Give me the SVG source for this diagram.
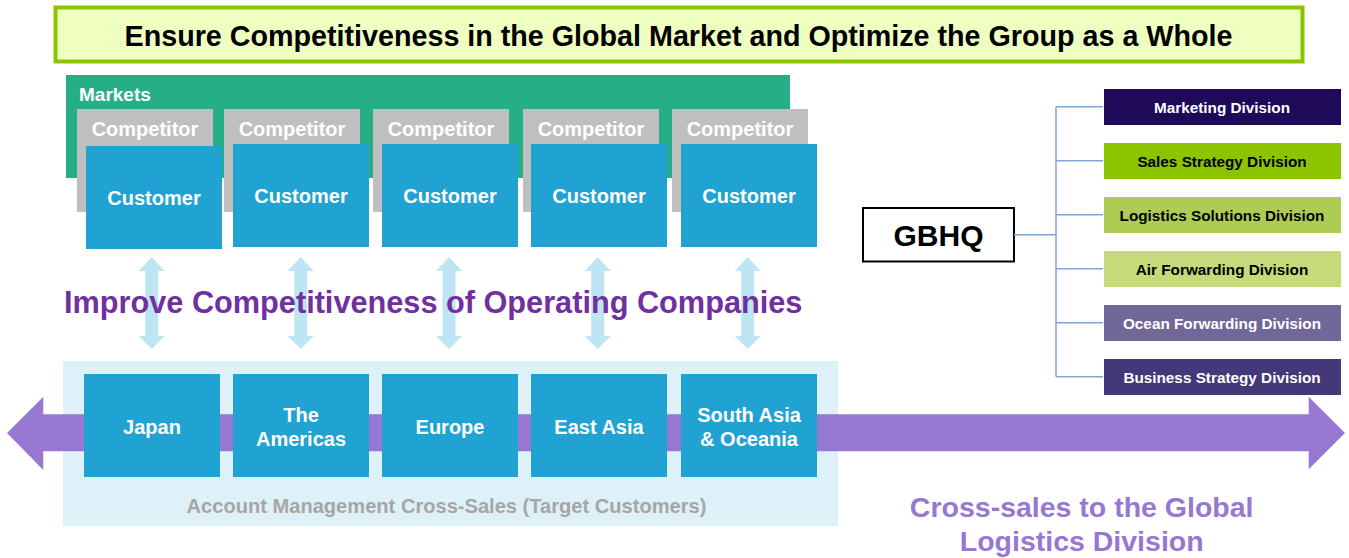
<svg xmlns="http://www.w3.org/2000/svg" width="1349" height="558" viewBox="0 0 1349 558">
  <style>
    text { font-family: "Liberation Sans", Arial, sans-serif; font-weight: bold; }
    .comp { fill: #BFBFBF; }
    .cust { fill: #20A3D3; }
    .wt { fill: #FFFFFF; font-size: 20px; text-anchor: middle; }
    .div { font-size: 15.3px; text-anchor: middle; }
    .link { stroke: #7FA6D9; stroke-width: 1.5; fill: none; }
    .dbl { fill: #BDE5F4; }
  </style>
  <defs>
    <!-- vertical double-headed arrow, centred on x=0 -->
    <path id="dblArrow" d="M0,257 L13,271 L6.5,271 L6.5,336 L13,336 L0,349 L-13,336 L-6.5,336 L-6.5,271 L-13,271 Z"/>
  </defs>

  <!-- headline banner -->
  <g id="banner">
    <rect x="55.5" y="7.5" width="1247" height="54" fill="#EEFFC0" stroke="#8DC400" stroke-width="4"/>
    <text x="678.5" y="45.5" font-size="28.7" text-anchor="middle" fill="#000000">Ensure Competitiveness in the Global Market and Optimize the Group as a Whole</text>
  </g>

  <!-- markets band -->
  <g id="markets">
    <rect x="66" y="75" width="724" height="103" fill="#26AF87"/>
    <text x="79" y="101" font-size="19" fill="#FFFFFF">Markets</text>
  </g>

  <!-- competitors -->
  <g id="competitor-1"><rect class="comp" x="77" y="109" width="136" height="103"/><text class="wt" x="145" y="136">Competitor</text></g>
  <g id="competitor-2"><rect class="comp" x="224" y="109" width="136" height="103"/><text class="wt" x="292" y="136">Competitor</text></g>
  <g id="competitor-3"><rect class="comp" x="373" y="109" width="136" height="103"/><text class="wt" x="441" y="136">Competitor</text></g>
  <g id="competitor-4"><rect class="comp" x="523" y="109" width="136" height="103"/><text class="wt" x="591" y="136">Competitor</text></g>
  <g id="competitor-5"><rect class="comp" x="672" y="109" width="136" height="103"/><text class="wt" x="740" y="136">Competitor</text></g>

  <!-- customers -->
  <g id="customer-1"><rect class="cust" x="86" y="146" width="136" height="103"/><text class="wt" x="154" y="205">Customer</text></g>
  <g id="customer-2"><rect class="cust" x="233" y="144" width="136" height="103"/><text class="wt" x="301" y="203">Customer</text></g>
  <g id="customer-3"><rect class="cust" x="382" y="144" width="136" height="103"/><text class="wt" x="450" y="203">Customer</text></g>
  <g id="customer-4"><rect class="cust" x="531" y="144" width="136" height="103"/><text class="wt" x="599" y="203">Customer</text></g>
  <g id="customer-5"><rect class="cust" x="681" y="144" width="136" height="103"/><text class="wt" x="749" y="203">Customer</text></g>

  <!-- customer / region exchange arrows -->
  <g id="exchange-arrows" class="dbl">
    <use href="#dblArrow" x="151.7"/>
    <use href="#dblArrow" x="300.7"/>
    <use href="#dblArrow" x="449"/>
    <use href="#dblArrow" x="597.7"/>
    <use href="#dblArrow" x="747.7"/>
  </g>

  <text id="improve-heading" x="64" y="313" font-size="30.7" fill="#7030A0">Improve Competitiveness of Operating Companies</text>

  <!-- account management panel -->
  <g id="account-panel">
    <rect x="63" y="361" width="775" height="165" fill="#DEF1F9"/>
    <text x="446.5" y="512.5" font-size="20.1" text-anchor="middle" fill="#A6A6A6">Account Management Cross-Sales (Target Customers)</text>
  </g>

  <!-- cross-sales arrow -->
  <path id="cross-sales-arrow" d="M7,433 L43.3,396.7 L43.3,414.3 L1308.7,414.3 L1308.7,396.7 L1345,433 L1308.7,469.3 L1308.7,451.3 L43.3,451.3 L43.3,470 Z" fill="#9678D3"/>

  <!-- regions -->
  <g id="region-japan"><rect class="cust" x="84" y="374" width="136" height="103"/><text class="wt" x="152" y="433.5">Japan</text></g>
  <g id="region-americas"><rect class="cust" x="233" y="374" width="136" height="103"/><text class="wt" x="301" y="422">The</text><text class="wt" x="301" y="445.5">Americas</text></g>
  <g id="region-europe"><rect class="cust" x="382" y="374" width="136" height="103"/><text class="wt" x="450" y="433.5">Europe</text></g>
  <g id="region-east-asia"><rect class="cust" x="531" y="374" width="136" height="103"/><text class="wt" x="599" y="433.5">East Asia</text></g>
  <g id="region-south-asia"><rect class="cust" x="681" y="374" width="136" height="103"/><text class="wt" x="749" y="422">South Asia</text><text class="wt" x="749" y="445.5">&amp; Oceania</text></g>

  <g id="cross-sales-label" font-size="28.5" fill="#9678D3">
    <text x="1081.7" y="517" text-anchor="middle">Cross-sales to the Global</text>
    <text x="1081.7" y="551" text-anchor="middle">Logistics Division</text>
  </g>

  <!-- GBHQ organisation -->
  <g id="gbhq">
    <rect x="863" y="208" width="151" height="53.5" fill="#FFFFFF" stroke="#000000" stroke-width="2"/>
    <text x="938.5" y="246" font-size="30" text-anchor="middle" fill="#000000">GBHQ</text>
  </g>

  <g id="connectors" class="link">
    <path d="M1014,234.7 H1056"/>
    <path d="M1056,106.7 V376.7"/>
    <path d="M1056,106.7 H1103 M1056,160.7 H1103 M1056,214.7 H1103 M1056,268.7 H1103 M1056,322.7 H1103 M1056,376.7 H1103"/>
  </g>

  <g id="div-marketing"><rect x="1104" y="89" width="237" height="36" fill="#1F0A5A"/><text class="div" x="1222" y="113" fill="#FFFFFF">Marketing Division</text></g>
  <g id="div-sales-strategy"><rect x="1104" y="143" width="237" height="36" fill="#8DC400"/><text class="div" x="1222" y="167" fill="#000000">Sales Strategy Division</text></g>
  <g id="div-logistics-solutions"><rect x="1104" y="197" width="237" height="36" fill="#AECC54"/><text class="div" x="1222" y="221" fill="#000000">Logistics Solutions Division</text></g>
  <g id="div-air-forwarding"><rect x="1104" y="251" width="237" height="36" fill="#C5DB7B"/><text class="div" x="1222" y="275" fill="#000000">Air Forwarding Division</text></g>
  <g id="div-ocean-forwarding"><rect x="1104" y="305" width="237" height="36" fill="#726799"/><text class="div" x="1222" y="329" fill="#FFFFFF">Ocean Forwarding Division</text></g>
  <g id="div-business-strategy"><rect x="1104" y="359" width="237" height="36" fill="#45387A"/><text class="div" x="1222" y="383" fill="#FFFFFF">Business Strategy Division</text></g>
</svg>
